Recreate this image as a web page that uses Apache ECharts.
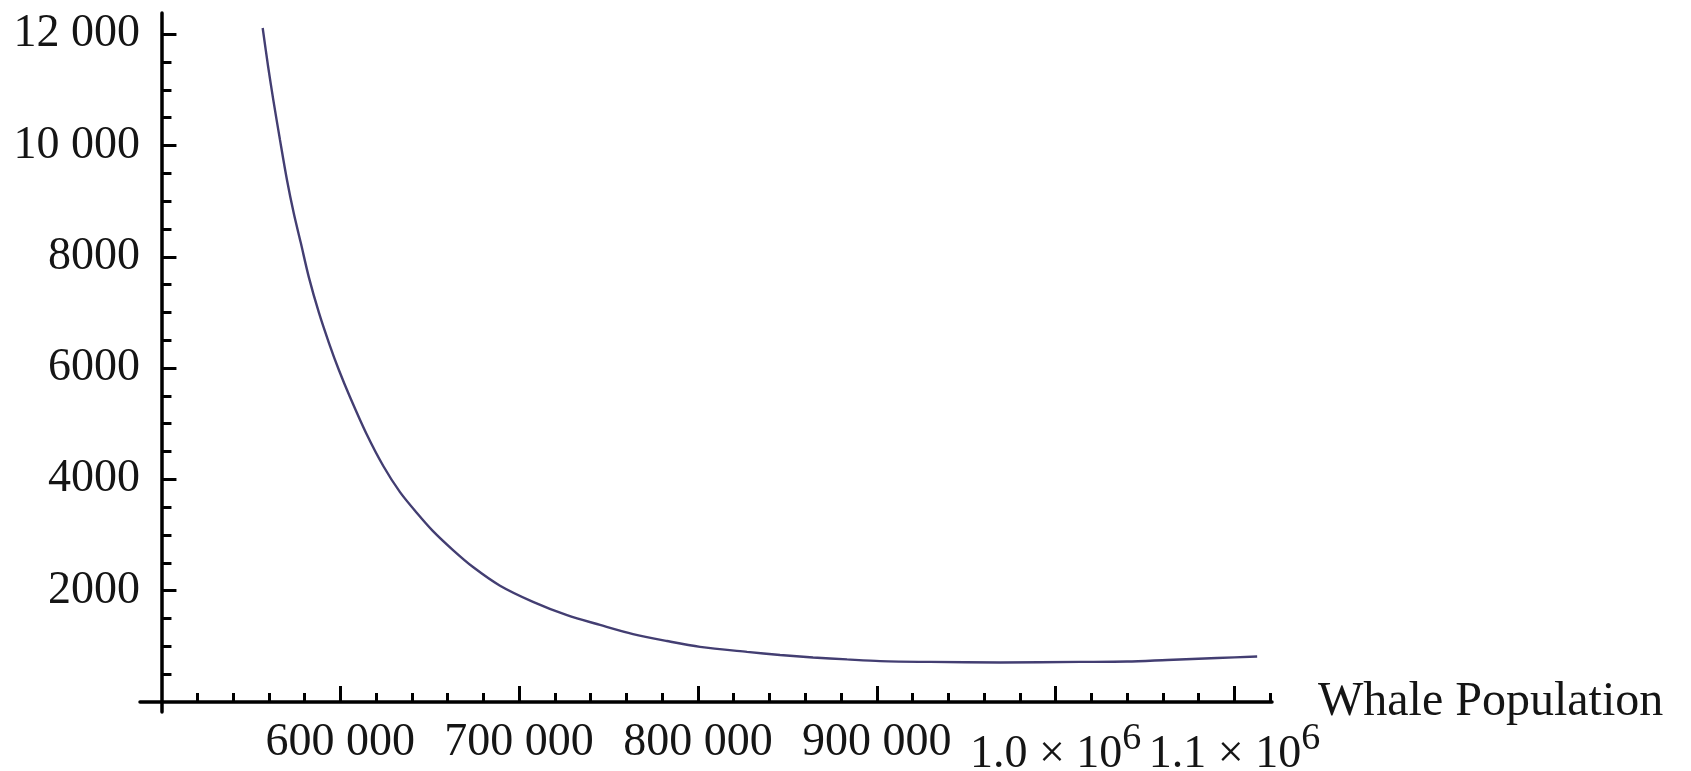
<!DOCTYPE html>
<html>
<head>
<meta charset="utf-8">
<script src="https://cdn.jsdelivr.net/npm/echarts@6/dist/echarts.min.js"></script>
<style>
  html, body { margin: 0; padding: 0; background: #ffffff; }
  #chart { width: 1691px; height: 771px; }
</style>
</head>
<body>
<div id="chart"></div>
<script>
// ---- data ----
const whalePopulation = [556600, 559680, 562580, 566280, 570190, 573990, 577910, 582440, 588090, 593680,
  599270, 605420, 614760, 624050, 633390, 642730, 651840, 663030, 674220, 689320,
  707770, 726790, 745240, 763700, 782720, 801170, 827460, 845910, 864370, 883390,
  901840, 929810, 968960, 1013700, 1039990, 1062370, 1090320, 1112700];
const costValues = [12110, 11410, 10810, 10100, 9380, 8780, 8250, 7630, 6990, 6450,
  5960, 5480, 4810, 4240, 3770, 3400, 3070, 2730, 2425, 2090,
  1800, 1560, 1385, 1220, 1095, 990, 900, 845, 800, 765,
  735, 720, 710, 720, 727, 755, 790, 817];

const xMajorTicks = [600000, 700000, 800000, 900000, 1000000, 1100000];
const xTickLabels = ['600 000', '700 000', '800 000', '900 000', '{b|1.0 × 10}{s|6}', '{b|1.1 × 10}{s|6}'];
const yMajorTicks = [2000, 4000, 6000, 8000, 10000, 12000];
const yTickLabels = ['2000', '4000', '6000', '8000', '10 000', '12 000'];
const xAxisName = 'Whale Population';

// axis ranges
const xMin = 488000, xMax = 1121000, xCross = 500000;
const yMin = -180, yMax = 12380;

// minor tick positions (between majors)
const xMinorTicks = [];
for (let v = 500000; v <= 1120000; v += 20000) if (v % 100000 !== 0) xMinorTicks.push(v);
const yMinorTicks = [];
for (let v = 500; v <= 12000; v += 500) if (v % 2000 !== 0) yMinorTicks.push(v);

const seriesData = whalePopulation.map((x, i) => [x, costValues[i]]);

const FONT = '"Liberation Serif", "DejaVu Serif", serif';
const AXIS_COLOR = '#000000';
const TEXT_COLOR = '#151515';

const chart = echarts.init(document.getElementById('chart'), null, { renderer: 'canvas' });

chart.setOption({
  animation: false,
  backgroundColor: '#ffffff',
  grid: { left: 140, right: 419, top: 13, bottom: 59, containLabel: false, outerBoundsMode: 'none' },
  xAxis: [
    {
      type: 'value', min: xMin, max: xMax, position: 'bottom',
      axisLine: { show: true, onZero: true, onZeroAxisIndex: 0, lineStyle: { color: AXIS_COLOR, width: 3.5 } },
      axisTick: { show: true, inside: true, length: 16, customValues: xMajorTicks, lineStyle: { color: AXIS_COLOR, width: 3 } },
      axisLabel: {
        show: true, customValues: xMajorTicks, margin: 8, hideOverlap: false,
        fontFamily: FONT, fontSize: 46, color: TEXT_COLOR,
        formatter: v => xTickLabels[xMajorTicks.indexOf(v)] || '',
        rich: {
          b: { fontFamily: FONT, fontSize: 46, color: TEXT_COLOR, lineHeight: 46, verticalAlign: 'bottom' },
          s: { fontFamily: FONT, fontSize: 38, color: TEXT_COLOR, verticalAlign: 'top', padding: [0, 0, 20, 0] }
        }
      },
      splitLine: { show: false },
      name: xAxisName, nameLocation: 'end', nameGap: 46, nameMoveOverlap: false,
      nameTextStyle: { fontFamily: FONT, fontSize: 48, color: TEXT_COLOR, align: 'left', verticalAlign: 'middle' }
    },
    {
      type: 'value', min: xMin, max: xMax, position: 'bottom',
      axisLine: { show: false, onZero: true, onZeroAxisIndex: 0 },
      axisTick: { show: true, inside: true, length: 9, customValues: xMinorTicks, lineStyle: { color: AXIS_COLOR, width: 3 } },
      axisLabel: { show: false },
      splitLine: { show: false }
    },
    {
      type: 'value', min: xMin - xCross, max: xMax - xCross, show: false, position: 'bottom',
      axisLine: { onZero: false }, splitLine: { show: false }
    }
  ],
  yAxis: [
    {
      type: 'value', min: yMin, max: yMax, position: 'left',
      axisLine: { show: true, onZero: true, onZeroAxisIndex: 2, lineStyle: { color: AXIS_COLOR, width: 3.5 } },
      axisTick: { show: true, inside: true, length: 15, customValues: yMajorTicks, lineStyle: { color: AXIS_COLOR, width: 3 } },
      axisLabel: {
        show: true, customValues: yMajorTicks, margin: 0, hideOverlap: false,
        fontFamily: FONT, fontSize: 46, color: TEXT_COLOR,
        formatter: v => yTickLabels[yMajorTicks.indexOf(v)] || ''
      },
      splitLine: { show: false }
    },
    {
      type: 'value', min: yMin, max: yMax, position: 'left',
      axisLine: { show: false, onZero: true, onZeroAxisIndex: 2 },
      axisTick: { show: true, inside: true, length: 10, customValues: yMinorTicks, lineStyle: { color: AXIS_COLOR, width: 3 } },
      axisLabel: { show: false },
      splitLine: { show: false }
    }
  ],
  series: [
    {
      type: 'line', xAxisIndex: 0, yAxisIndex: 0,
      data: seriesData, showSymbol: false, smooth: 0.3,
      lineStyle: { color: '#433e72', width: 2.4 },
      itemStyle: { color: '#433e72' },
      silent: true
    }
  ]
});
</script>
</body>
</html>
